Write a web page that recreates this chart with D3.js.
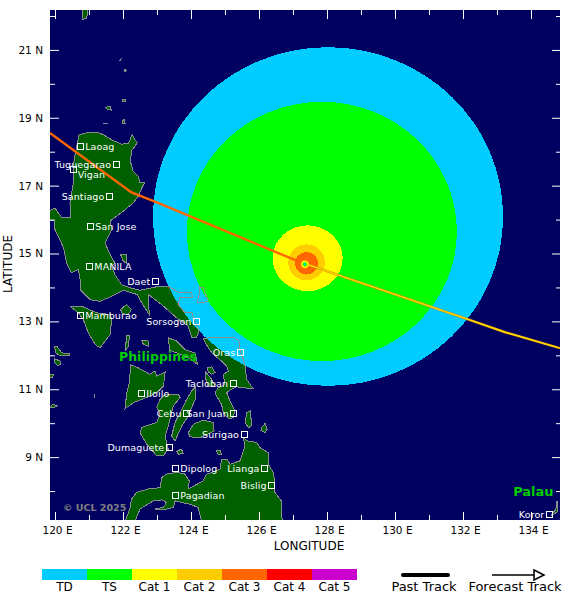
<!DOCTYPE html>
<html>
<head>
<meta charset="utf-8">
<script src="https://cdn.jsdelivr.net/npm/d3@7"></script>
<style>
  html, body { margin: 0; padding: 0; background: #fff; }
  text { font-family: "DejaVu Sans", sans-serif; }
</style>
</head>
<body>
<div id="chart"></div>
<script>
// coastlines as [lon, lat]
var luzon = [[120.71,18.50],[120.98,18.57],[121.23,18.58],[121.42,18.50],[121.67,18.35],[121.96,18.22],[122.16,18.25],[122.27,18.50],[122.35,18.35],[122.42,18.27],[122.35,18.16],[122.24,18.01],[122.23,17.67],[122.30,17.42],[122.45,17.27],[122.50,17.08],[122.63,17.08],[122.55,16.93],[122.45,16.69],[122.30,16.49],[122.06,16.29],[121.81,16.10],[121.62,15.95],[121.67,15.71],[121.47,15.31],[121.62,14.97],[121.76,14.72],[121.67,14.62],[121.76,14.38],[121.96,14.08],[122.20,13.99],[122.50,13.92],[122.99,14.02],[123.36,14.02],[123.62,13.86],[124.02,13.84],[124.04,13.70],[123.67,13.70],[123.62,13.50],[123.82,13.26],[124.02,13.26],[124.16,12.91],[124.24,12.72],[124.16,12.52],[124.02,12.52],[123.92,12.86],[123.58,13.10],[123.19,13.45],[122.75,13.79],[122.77,13.20],[122.55,13.55],[122.42,13.79],[122.01,13.92],[121.67,13.74],[121.32,13.59],[121.03,13.64],[120.74,13.94],[120.74,14.23],[120.69,14.53],[120.49,14.43],[120.34,14.72],[120.25,15.17],[120.00,15.71],[120.00,15.95],[119.85,15.98],[119.85,16.27],[120.00,16.34],[120.20,16.05],[120.47,16.05],[120.44,16.49],[120.54,17.08],[120.56,17.76]];
var mindoro = [[120.44,13.45],[120.78,13.45],[121.23,13.25],[121.62,13.20],[121.67,13.06],[121.62,12.61],[121.32,12.22],[121.18,12.32],[120.98,12.66],[120.83,13.06],[120.69,13.25]];
var marinduque = [[121.93,13.35],[122.11,13.50],[122.25,13.35],[122.15,13.20],[121.98,13.23]];
var tablas = [[122.11,12.57],[122.19,12.58],[122.16,12.27],[122.06,12.12]];
var sibuyan = [[122.55,12.45],[122.75,12.42],[122.76,12.27],[122.60,12.32]];
var masbate = [[123.33,12.52],[123.58,12.42],[123.82,12.17],[124.12,12.07],[124.19,11.73],[123.92,11.93],[123.68,12.03],[123.38,12.15]];
var panay = [[122.21,11.73],[122.45,11.63],[122.79,11.44],[122.94,11.54],[122.99,11.39],[123.24,11.51],[123.19,11.09],[122.99,10.90],[122.79,10.80],[122.55,10.70],[122.30,10.60],[122.06,10.43],[122.11,10.90],[122.19,11.19],[122.21,11.49]];
var negros = [[123.24,10.85],[123.63,10.85],[123.68,10.75],[123.48,10.51],[123.36,10.02],[123.24,9.62],[123.33,9.23],[123.19,9.04],[122.99,9.04],[122.70,9.38],[122.50,9.72],[122.55,9.87],[122.99,10.02],[123.09,10.26],[122.99,10.46],[123.09,10.70]];
var cebu = [[124.12,11.05],[124.12,10.70],[123.92,10.21],[123.73,9.92],[123.53,9.48],[123.43,9.62],[123.53,10.02],[123.73,10.41],[123.87,10.70],[124.02,10.95]];
var samarLeyte = [[124.36,12.49],[124.56,12.52],[124.95,12.51],[125.24,12.54],[125.42,12.42],[125.44,12.17],[125.54,11.88],[125.59,11.68],[125.64,11.29],[125.83,11.01],[125.59,11.04],[125.34,11.07],[125.20,11.01],[125.05,10.90],[125.15,10.65],[125.29,10.36],[125.24,10.16],[125.10,10.13],[124.95,10.31],[124.90,10.55],[124.75,10.80],[124.71,10.90],[124.80,11.04],[125.00,11.14],[124.95,11.44],[125.10,11.53],[125.05,11.68],[124.90,11.83],[124.66,12.02],[124.51,12.22]];
var biliran = [[124.48,11.63],[124.61,11.66],[124.71,11.49],[124.61,11.44],[124.51,11.51]];
var leyteWest = [[124.43,11.51],[124.61,11.29],[124.71,11.09],[124.51,11.07],[124.44,11.29]];
var bohol = [[123.92,9.72],[124.07,9.97],[124.36,10.09],[124.66,10.02],[124.68,9.77],[124.26,9.57],[123.97,9.60]];
var dinagat = [[125.64,10.31],[125.75,10.36],[125.78,9.92],[125.69,9.87],[125.59,10.01]];
var siargao = [[126.08,9.87],[126.18,9.99],[126.24,9.82],[126.18,9.72],[126.06,9.79]];
var mindanao = [[123.92,8.06],[123.95,8.30],[123.82,8.50],[123.58,8.55],[123.28,8.50],[123.14,8.40],[123.09,8.10],[122.74,8.06],[122.40,7.96],[122.25,7.76],[122.20,7.47],[122.06,7.10],[122.35,7.10],[122.50,7.47],[122.89,7.71],[123.14,7.74],[123.28,7.66],[123.18,7.52],[122.94,7.47],[123.23,7.45],[123.48,7.52],[123.53,7.71],[123.97,7.61],[124.21,7.52],[124.31,7.10],[126.68,7.10],[126.66,7.71],[126.47,7.96],[126.47,8.25],[126.42,8.55],[126.27,8.79],[126.27,9.13],[126.03,9.28],[125.93,9.43],[125.64,9.48],[125.54,9.57],[125.59,9.33],[125.44,8.89],[125.15,8.79],[125.05,8.94],[124.90,8.94],[124.85,8.64],[124.46,8.50],[124.36,8.30]];
var siquijor = [[123.58,9.18],[123.72,9.23],[123.77,9.11],[123.63,9.08]];
var camiguin = [[124.75,9.18],[124.85,9.21],[124.90,9.08],[124.80,9.08]];
var busuanga = [[119.98,12.27],[120.05,12.27],[120.20,12.07],[120.44,12.05],[120.42,11.98],[120.15,11.99],[120.03,12.07]];
var culion = [[119.98,11.90],[120.15,11.83],[120.17,11.73],[120.07,11.70],[120.00,11.78]];
var palawanA = [[119.85,11.42],[119.97,11.44],[119.93,11.36],[119.85,11.36]];
var palawanB = [[119.85,10.49],[119.95,10.56],[120.07,10.51],[119.95,10.46],[119.87,10.45]];
var cuyo = [[121.15,10.84],[121.17,10.84],[121.17,10.76],[121.15,10.76]];
var taiwanTip = [[120.81,22.30],[120.99,22.30],[120.93,21.93],[120.81,21.90]];
var batanA = [[121.93,20.72],[121.96,20.75],[121.91,20.68]];
var batanB = [[122.06,20.43],[122.09,20.39],[122.04,20.36]];
var babuyanA = [[121.99,19.53],[122.07,19.53],[122.07,19.47],[121.99,19.47]];
var babuyanB = [[121.48,19.31],[121.64,19.33],[121.65,19.23],[121.54,19.25]];
var babuyanC = [[121.98,18.89],[122.03,18.96],[122.06,18.84],[121.99,18.82]];
var babuyanD = [[121.44,18.84],[121.54,18.84],[121.54,18.82],[121.44,18.82]];
var polillo = [[121.93,14.97],[122.09,14.97],[122.09,14.72],[122.01,14.77]];
var catanduanes = [[124.24,14.02],[124.36,13.99],[124.41,13.84],[124.51,13.60],[124.36,13.55],[124.18,13.57],[124.24,13.79]];
var palauIslands = [[134.76,7.70],[134.79,7.70],[134.78,7.40],[134.62,7.27],[134.59,7.30],[134.73,7.45]];

var landShapes = [luzon, mindoro, marinduque, tablas, sibuyan, masbate, panay, negros, cebu, samarLeyte, biliran, leyteWest, bohol, dinagat, siargao, mindanao, siquijor, camiguin, busuanga, culion, palawanA, palawanB, cuyo, taiwanTip, batanA, batanB, babuyanA, babuyanB, babuyanC, babuyanD, polillo, catanduanes, palauIslands];

// wind radii, largest first: [lon, lat, radius lon, radius lat]
var windCat = ["TD", "TS", "Cat 1", "Cat 2", "Cat 3"];
var windArea = [[128.03,16.09,5.15,4.99],[127.85,15.65,3.97,3.82],[127.43,14.86,1.03,0.97],[127.40,14.74,0.54,0.53],[127.40,14.71,0.34,0.33]];
var eyeCat = ["Cat 2", "Cat 1", "TS", "TD"];
var eyeRadius = [0.12, 0.09, 0.06, 0.03];
var eyeCentre = [127.35, 14.68];

// track
var pastTrack = [[119.85,18.55],[122.25,16.80],[122.94,16.53],[126.91,14.87],[127.35,14.70]];
var forecastTrack = [[127.35,14.70],[132.15,13.06],[133.24,12.68],[134.85,12.21]];

// cities
var cityName = ["Laoag","Tuguegarao","Vigan","Santiago","San Jose","MANILA","Daet","Mamburao","Sorsogon","Oras","Tacloban","Iloilo","Cebu","San Juan","Surigao","Dumaguete","Dipolog","Lianga","Bislig","Pagadian","Koror"];
var cityLon = [120.74,121.80,120.55,121.60,121.04,121.01,122.95,120.74,124.16,125.45,125.24,122.54,123.87,125.26,125.56,123.36,123.54,126.16,126.37,123.54,134.54];
var cityLat = [18.16,17.61,17.49,16.67,15.79,14.62,14.17,13.17,12.99,12.08,11.17,10.87,10.28,10.28,9.66,9.27,8.66,8.66,8.16,7.87,7.31];
var citySide = ["r","l","b","l","r","r","l","r","l","l","l","r","l","l","l","l","r","l","l","r","l"];

// axes
var lonMajor = [120,122,124,126,128,130,132,134];
var lonMinor = [121,123,125,127,129,131,133];
var latMajor = [9,11,13,15,17,19,21];
var latMinor = [8,10,12,14,16,18,20,22];

// legend
var legendCat = ["TD","TS","Cat 1","Cat 2","Cat 3","Cat 4","Cat 5"];
var legendCol = ["#00ccff","#00ff00","#ffff00","#ffcc00","#ff6600","#ff0000","#cc00cc"];

var width = 580, height = 602;
var margin = { top: 10, right: 20, bottom: 82, left: 50 };
var plotW = width - margin.left - margin.right,
    plotH = height - margin.top - margin.bottom;

var svg = d3.select("#chart").append("svg")
    .attr("width", width)
    .attr("height", height)
    .style("display", "block");

var x = d3.scaleLinear().domain([119.853, 134.853]).range([0, plotW]);
var y = d3.scaleLinear().domain([7.147, 22.176]).range([plotH, 0]);
var catColor = d3.scaleOrdinal().domain(legendCat).range(legendCol);

svg.append("defs").append("clipPath").attr("id", "plot")
    .append("rect").attr("width", plotW).attr("height", plotH);

var g = svg.append("g")
    .attr("transform", "translate(" + margin.left + "," + margin.top + ")");
var map = g.append("g").attr("clip-path", "url(#plot)");

map.append("rect")
    .attr("width", plotW)
    .attr("height", plotH)
    .attr("fill", "#000060");

var coast = d3.line()
    .x(function (d) { return x(d[0]); })
    .y(function (d) { return y(d[1]); })
    .curve(d3.curveLinearClosed);

// land fill goes under the wind areas, outlines go over them
map.selectAll("path.land")
    .data(landShapes)
    .enter().append("path")
    .attr("class", "land")
    .attr("d", coast)
    .attr("fill", "#006000")
    .attr("shape-rendering", "crispEdges");

map.selectAll("ellipse.wind")
    .data(windArea)
    .enter().append("ellipse")
    .attr("class", "wind")
    .attr("cx", function (d) { return x(d[0]); })
    .attr("cy", function (d) { return y(d[1]); })
    .attr("rx", function (d) { return x(d[0] + d[2]) - x(d[0]); })
    .attr("ry", function (d) { return y(d[1] - d[3]) - y(d[1]); })
    .attr("fill", function (d, i) { return catColor(windCat[i]); })
    .attr("shape-rendering", "crispEdges");

map.selectAll("path.coast")
    .data(landShapes)
    .enter().append("path")
    .attr("class", "coast")
    .attr("d", coast)
    .attr("fill", "none")
    .attr("stroke", "#8c8c8c")
    .attr("stroke-width", 1)
    .attr("shape-rendering", "crispEdges");

var track = d3.line()
    .x(function (d) { return x(d[0]); })
    .y(function (d) { return y(d[1]); });

map.append("path")
    .attr("d", track(forecastTrack))
    .attr("fill", "none")
    .attr("stroke", "#d08a00")
    .attr("stroke-width", 2.4);
map.append("path")
    .attr("d", track(forecastTrack))
    .attr("fill", "none")
    .attr("stroke", "#ffdd00")
    .attr("stroke-width", 1.4);
map.append("path")
    .attr("d", track(pastTrack))
    .attr("fill", "none")
    .attr("stroke", "#ff6600")
    .attr("stroke-width", 2.4);

map.selectAll("circle.eye")
    .data(eyeRadius)
    .enter().append("circle")
    .attr("class", "eye")
    .attr("cx", x(eyeCentre[0]))
    .attr("cy", y(eyeCentre[1]))
    .attr("r", function (d) { return x(eyeCentre[0] + d) - x(eyeCentre[0]); })
    .attr("fill", function (d, i) { return catColor(eyeCat[i]); });

// cities
var city = map.selectAll("g.city")
    .data(cityName)
    .enter().append("g")
    .attr("class", "city")
    .attr("transform", function (d, i) {
        return "translate(" + x(cityLon[i]) + "," + y(cityLat[i]) + ")";
    });

city.append("rect")
    .attr("x", -3)
    .attr("y", -3)
    .attr("width", 6)
    .attr("height", 6)
    .attr("fill", "none")
    .attr("stroke", "#fff")
    .attr("shape-rendering", "crispEdges");

city.append("text")
    .attr("x", function (d, i) { return citySide[i] == "l" ? -5 : citySide[i] == "r" ? 5 : 4; })
    .attr("y", function (d, i) { return citySide[i] == "b" ? 6 : 0; })
    .attr("dy", "0.35em")
    .attr("text-anchor", function (d, i) { return citySide[i] == "l" ? "end" : "start"; })
    .style("font-size", "9.5px")
    .style("letter-spacing", "0.1px")
    .attr("fill", "#fff")
    .text(function (d) { return d; });

map.append("text")
    .attr("x", x(123.03)).attr("y", y(11.96))
    .attr("dy", "0.35em")
    .attr("text-anchor", "middle")
    .style("font-size", "12.5px")
    .style("font-weight", "bold")
    .attr("fill", "#00cc00")
    .text("Philippines");

map.append("text")
    .attr("x", x(134.07)).attr("y", y(8.0))
    .attr("dy", "0.35em")
    .attr("text-anchor", "middle")
    .style("font-size", "13px")
    .style("font-weight", "bold")
    .attr("fill", "#00cc00")
    .text("Palau");

map.append("text")
    .attr("x", 13).attr("y", plotH - 12)
    .attr("dy", "0.35em")
    .style("font-size", "9.5px")
    .style("font-weight", "bold")
    .attr("fill", "#808080")
    .text("\u00a9 UCL 2025");

// axes: ticks point into the map
function drawAxis(axis, tx, ty) {
    var a = g.append("g")
        .attr("transform", "translate(" + tx + "," + ty + ")")
        .call(axis);
    a.select(".domain").remove();
    a.selectAll("line").attr("stroke", "#fff");
    a.selectAll("text").attr("fill", "#000").style("font-size", "10.5px").style("font-family", '"DejaVu Sans", sans-serif');
    return a;
}

function lonFmt(d) { return d + " E"; }
function latFmt(d) { return d + " N"; }

var bottom = drawAxis(d3.axisBottom(x).tickValues(lonMajor).tickSize(-8).tickPadding(7).tickFormat(lonFmt), 0, plotH);
bottom.selectAll("text").attr("dx", 2);
drawAxis(d3.axisBottom(x).tickValues(lonMinor).tickSize(-5).tickFormat(""), 0, plotH);
drawAxis(d3.axisTop(x).tickValues(lonMajor).tickSize(-9).tickFormat(""), 0, 0);
drawAxis(d3.axisTop(x).tickValues(lonMinor).tickSize(-5).tickFormat(""), 0, 0);
drawAxis(d3.axisLeft(y).tickValues(latMajor).tickSize(-9).tickPadding(7).tickFormat(latFmt), 0, 0);
drawAxis(d3.axisLeft(y).tickValues(latMinor).tickSize(-5).tickFormat(""), 0, 0);
drawAxis(d3.axisRight(y).tickValues(latMajor).tickSize(-8).tickFormat(""), plotW, 0);
drawAxis(d3.axisRight(y).tickValues(latMinor).tickSize(-4).tickFormat(""), plotW, 0);

g.append("text")
    .attr("x", 259)
    .attr("y", plotH + 30)
    .attr("text-anchor", "middle")
    .style("font-size", "12px")
    .text("LONGITUDE");

svg.append("text")
    .attr("transform", "translate(12,264) rotate(-90)")
    .attr("text-anchor", "middle")
    .style("font-size", "12px")
    .text("LATITUDE");

// legend
var legendX = d3.scaleBand().domain(legendCat).range([42, 357]);

svg.selectAll("rect.legend")
    .data(legendCat)
    .enter().append("rect")
    .attr("class", "legend")
    .attr("x", function (d) { return legendX(d); })
    .attr("y", 569)
    .attr("width", legendX.bandwidth())
    .attr("height", 11)
    .attr("fill", function (d) { return catColor(d); })
    .attr("shape-rendering", "crispEdges");

svg.selectAll("text.legend")
    .data(legendCat)
    .enter().append("text")
    .attr("class", "legend")
    .attr("x", function (d) { return legendX(d) + legendX.bandwidth() / 2; })
    .attr("y", 591)
    .attr("text-anchor", "middle")
    .style("font-size", "12px")
    .text(function (d) { return d; });

svg.append("line")
    .attr("x1", 403).attr("x2", 448)
    .attr("y1", 575).attr("y2", 575)
    .attr("stroke", "#000")
    .attr("stroke-width", 4)
    .attr("stroke-linecap", "round");

svg.append("text")
    .attr("x", 424).attr("y", 591)
    .attr("text-anchor", "middle")
    .style("font-size", "13px")
    .text("Past Track");

svg.append("line")
    .attr("x1", 492).attr("x2", 534)
    .attr("y1", 575).attr("y2", 575)
    .attr("stroke", "#000")
    .attr("stroke-width", 1.5);

svg.append("path")
    .attr("d", d3.line()([[534, 570], [544, 575], [534, 580]]) + "Z")
    .attr("fill", "none")
    .attr("stroke", "#000")
    .attr("stroke-width", 1.5);

svg.append("text")
    .attr("x", 515).attr("y", 591)
    .attr("text-anchor", "middle")
    .style("font-size", "13px")
    .text("Forecast Track");
</script>
</body>
</html>
